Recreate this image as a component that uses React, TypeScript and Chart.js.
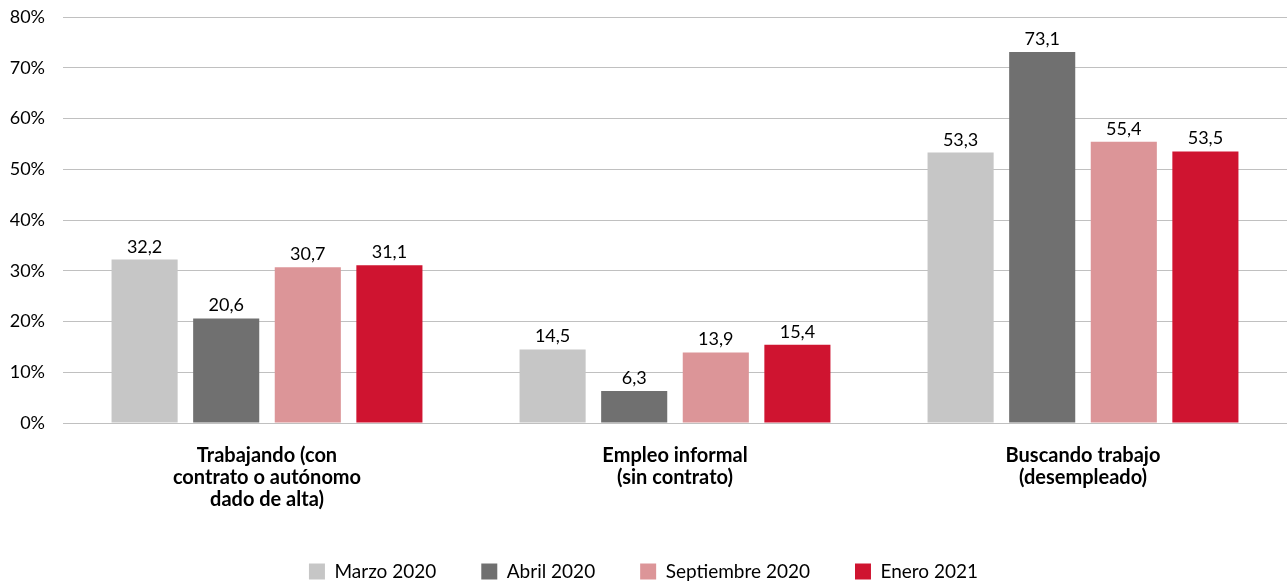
import React, { useEffect, useRef } from "react";
import { Chart, registerables } from "chart.js";

Chart.register(...registerables);

const categories: string[][] = [
  ["Trabajando (con", "contrato o autónomo", "dado de alta)"],
  ["Empleo informal", "(sin contrato)"],
  ["Buscando trabajo", "(desempleado)"],
];
const seriesNames = ["Marzo 2020", "Abril 2020", "Septiembre 2020", "Enero 2021"];
const marzo2020 = [32.2, 14.5, 53.3];
const abril2020 = [20.6, 6.3, 73.1];
const septiembre2020 = [30.7, 13.9, 55.4];
const enero2021 = [31.1, 15.4, 53.5];
const colors = ["#c6c6c6", "#707070", "#dc9598", "#cf1430"];
const FONT = "Lato, 'Open Sans', sans-serif";

const labelPlugin = {
  id: "valueLabels",
  afterDatasetsDraw(chart: any) {
    const ctx = chart.ctx;
    ctx.save();
    ctx.font = `18px ${FONT}`;
    ctx.fillStyle = "#000";
    ctx.textAlign = "center";
    ctx.textBaseline = "alphabetic";
    chart.data.datasets.forEach((ds: any, i: number) => {
      const meta = chart.getDatasetMeta(i);
      meta.data.forEach((bar: any, j: number) => {
        const v = ds.data[j] as number;
        ctx.fillText(v.toFixed(1).replace(".", ","), bar.x, bar.y - 7);
      });
    });
    ctx.restore();
  },
};

export default function App() {
  const ref = useRef<HTMLCanvasElement>(null);
  useEffect(() => {
    const all = [marzo2020, abril2020, septiembre2020, enero2021];
    const chart = new Chart(ref.current!, {
      type: "bar",
      data: {
        labels: categories,
        datasets: all.map((d, i) => ({
          label: seriesNames[i],
          data: d,
          backgroundColor: colors[i],
          borderWidth: 0,
          categoryPercentage: 0.8,
          barPercentage: 0.81,
        })),
      },
      options: {
        animation: false,
        responsive: true,
        maintainAspectRatio: false,
        layout: { padding: { top: 0, right: 1, left: 0, bottom: -8 } },
        plugins: {
          tooltip: { enabled: false },
          legend: {
            position: "bottom",
            labels: {
              boxWidth: 16,
              boxHeight: 16,
              padding: 45,
              color: "#000",
              font: { family: FONT, size: 19 },
            },
          },
        },
        scales: {
          x: {
            grid: { display: false },
            border: { display: false },
            afterFit: (scale: any) => {
              scale.height = 94;
            },
            ticks: {
              color: "#000",
              font: { family: FONT, size: 20, weight: "bold", lineHeight: 1.12 },
              padding: 13,
              maxRotation: 0,
              autoSkip: false,
            },
          },
          y: {
            min: 0,
            max: 80,
            afterFit: (scale: any) => {
              scale.width = 63;
              scale.paddingTop = 17;
              scale.paddingBottom = 0;
            },
            grid: { color: "#c0c0c0", lineWidth: 1, drawTicks: false },
            border: { display: false },
            ticks: {
              stepSize: 10,
              color: "#000",
              padding: 18,
              font: { family: FONT, size: 18 },
              callback: (v: any) => `${v}%`,
            },
          },
        },
      },
      plugins: [labelPlugin],
    });
    return () => chart.destroy();
  }, []);
  return (
    <div style={{ position: "fixed", left: 0, top: 0, width: 1288, height: 583, background: "#fff" }}>
      <canvas ref={ref} />
    </div>
  );
}
